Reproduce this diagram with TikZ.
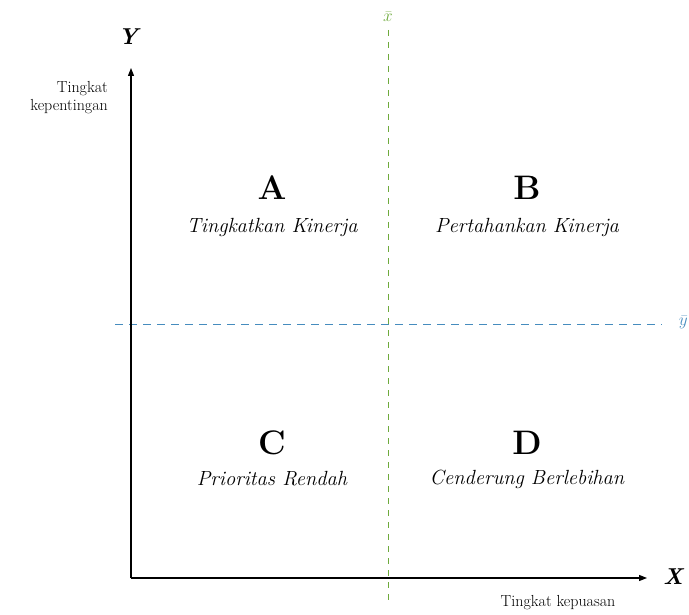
\documentclass[tikz,border=0pt]{standalone}
\usetikzlibrary{arrows.meta}
\definecolor{meangreen}{RGB}{110,170,60}
\definecolor{meanblue}{RGB}{70,140,190}
\begin{document}
\begin{tikzpicture}[x=1pt,y=-1pt,
  axis/.style={line width=1.2pt,-{Triangle[length=8pt,width=6pt]}},
  quadletter/.style={font=\fontsize{34}{36}\selectfont\bfseries},
  quadtext/.style={font=\fontsize{20.5}{23}\selectfont\itshape},
  smalltext/.style={font=\fontsize{16}{18}\selectfont},
  axislabel/.style={font=\fontsize{23}{25}\selectfont\bfseries\itshape}]
\useasboundingbox (0,0) rectangle (689,615);
\coordinate (O) at (131,578);
\coordinate (Ytip) at (131,68);
\coordinate (Xtip) at (647,578);
\coordinate (gtop) at (388,30);
\coordinate (gbot) at (388,600);
\coordinate (bl) at (115,324);
\coordinate (br) at (662,324);
\draw[meangreen,dashed,line width=0.8pt,dash pattern=on 6pt off 6pt] (gtop) -- (gbot);
\draw[meanblue,dashed,line width=0.8pt,dash pattern=on 8pt off 6pt] (bl) -- (br);
\draw[axis] (O) -- (Ytip);
\draw[axis] (O) -- (Xtip);
\node[axislabel] (ylab) at (128,37) {Y};
\node[axislabel] (xlab) at (673,577) {X};
\node[meangreen,font=\fontsize{18}{20}\selectfont] (xbar) at (388,17) {$\bar{x}$};
\node[meanblue,font=\fontsize{18}{20}\selectfont,anchor=east,inner sep=1pt] (ybar) at (689,322) {$\bar{y}$};
\node[smalltext,align=right,anchor=east,inner sep=1pt] (ylabtxt) at (109,98) {Tingkat\\kepentingan};
\node[smalltext] (xlabtxt) at (558,603) {Tingkat kepuasan};
\node[quadletter] (A) at (272,188) {A};
\node[quadtext] (At) at (272,227) {Tingkatkan Kinerja};
\node[quadletter] (B) at (527,188) {B};
\node[quadtext] (Bt) at (527,227) {Pertahankan Kinerja};
\node[quadletter] (C) at (272,443) {C};
\node[quadtext] (Ct) at (272,479) {Prioritas Rendah};
\node[quadletter] (D) at (527,443) {D};
\node[quadtext] (Dt) at (527,479) {Cenderung Berlebihan};
\end{tikzpicture}
\end{document}
